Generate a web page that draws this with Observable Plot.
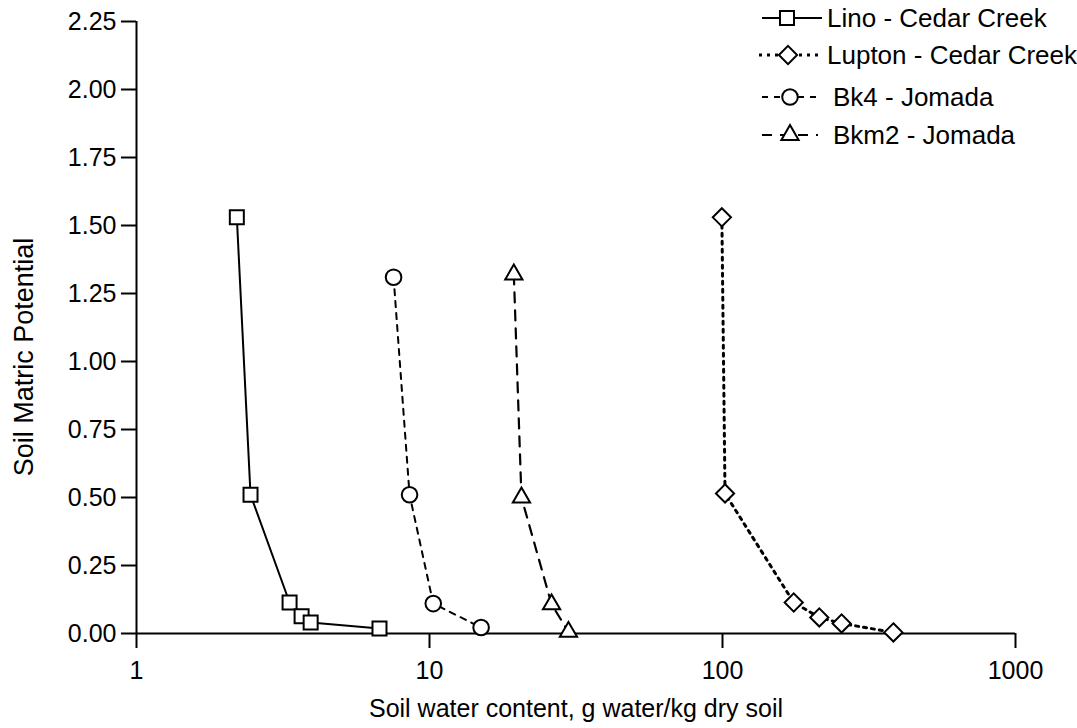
<!DOCTYPE html>
<html><head><meta charset="utf-8">
<script src="https://cdn.jsdelivr.net/npm/d3@7"></script>
<script src="https://cdn.jsdelivr.net/npm/@observablehq/plot@0.6"></script>
<style>
body{margin:0;background:#fff;}
#wrap{position:relative;width:1077px;height:728px;font-family:"Liberation Sans",Arial,Helvetica,sans-serif;}
#legend{position:absolute;left:0;top:0;pointer-events:none;}
</style></head><body><div id="wrap"></div>
<script>
// ---- data ----
const seriesNames = ["Lino - Cedar Creek", "Lupton - Cedar Creek", "Bk4 - Jomada", "Bkm2 - Jomada"];
const linoX = [2.2, 2.45, 3.33, 3.66, 3.93, 6.75];
const linoY = [1.53, 0.51, 0.114, 0.063, 0.04, 0.018];
const luptonX = [99.5, 102, 175, 214, 255, 383];
const luptonY = [1.53, 0.515, 0.114, 0.059, 0.037, 0.004];
const bk4X = [7.54, 8.55, 10.3, 15.0];
const bk4Y = [1.31, 0.51, 0.11, 0.022];
const bkm2X = [19.4, 20.6, 26.1, 29.8];
const bkm2Y = [1.32, 0.50, 0.107, 0.006];
const xTicks = [1, 10, 100, 1000];
const yTicks = [0, 0.25, 0.5, 0.75, 1, 1.25, 1.5, 1.75, 2, 2.25];
const xLabel = "Soil water content, g water/kg dry soil";
const yLabel = "Soil Matric Potential";

// ---- build tables ----
const seriesX = [linoX, luptonX, bk4X, bkm2X];
const seriesY = [linoY, luptonY, bk4Y, bkm2Y];
const tables = seriesNames.map((name, i) => seriesX[i].map((x, j) => ({series: name, x, y: seriesY[i][j]})));

const styles = [
  {dash: null, symbol: "square", r: 7.9, width: 2},
  {dash: "3,5", symbol: "diamond2", r: 8.2, width: 3},
  {dash: "6,6", symbol: "circle", r: 7.8, width: 2},
  {dash: "10,8", symbol: "triangle", r: 6.4, width: 2.2}
];

const font = '"Liberation Sans", Arial, Helvetica, sans-serif';

const marks = [
  Plot.ruleY([0], {stroke: "#000", strokeWidth: 2}),
  Plot.ruleX([1], {stroke: "#000", strokeWidth: 2}),
  Plot.axisX({ticks: xTicks, tickFormat: d => String(d), tickSize: 15, tickPadding: 13, strokeWidth: 2, fontSize: 25, label: null}),
  Plot.axisY({ticks: yTicks, tickFormat: d3.format(".2f"), tickSize: 15, tickPadding: 5, strokeWidth: 2, fontSize: 25, label: null})
];
tables.forEach((t, i) => {
  marks.push(Plot.line(t, {x: "x", y: "y", stroke: "#000", strokeWidth: styles[i].width, strokeDasharray: styles[i].dash || undefined}));
});
tables.forEach((t, i) => {
  marks.push(Plot.dot(t, {x: "x", y: "y", symbol: styles[i].symbol, r: styles[i].r, fill: "#fff", stroke: "#000", strokeWidth: 2}));
});
marks.push(Plot.text([xLabel], {text: d => d, frameAnchor: "bottom", dy: 83, fontSize: 25, fill: "#000"}));

const chart = Plot.plot({
  width: 1077, height: 728,
  marginLeft: 136, marginRight: 62, marginTop: 21, marginBottom: 95,
  style: {fontFamily: font, fontSize: "25px", color: "#000", background: "#fff", overflow: "visible"},
  x: {type: "log", domain: [1, 1000]},
  y: {domain: [0, 2.25]},
  marks
});
const wrap = document.getElementById("wrap");
wrap.appendChild(chart);

// y-axis title (real text)
d3.select(chart).append("text")
  .attr("transform", "translate(24,357) rotate(-90)")
  .attr("text-anchor", "middle").attr("dy", "0.35em")
  .attr("font-size", 27).attr("font-family", font).attr("fill", "#000")
  .text(yLabel);

// ---- legend ----
const legendRows = [18, 55, 97, 135];
const legendLine = [[762, 822, 787], [759, 822, 788], [762, 818, 790], [762, 818, 790]];
const legendTextX = [827, 827, 833, 833];
const leg = d3.select(wrap).append("svg").attr("id", "legend").attr("width", 1077).attr("height", 180)
  .style("font-family", font);
const symMap = {square: d3.symbolSquare, diamond2: d3.symbolDiamond2, circle: d3.symbolCircle, triangle: d3.symbolTriangle};
seriesNames.forEach((name, i) => {
  const y = legendRows[i], [x0, x1, xs] = legendLine[i], s = styles[i];
  const ln = leg.append("line").attr("x1", x0).attr("x2", x1).attr("y1", y).attr("y2", y)
    .attr("stroke", "#000").attr("stroke-width", s.width);
  if (s.dash) ln.attr("stroke-dasharray", s.dash);
  leg.append("path").attr("transform", `translate(${xs},${y})`)
    .attr("d", d3.symbol(symMap[s.symbol], s.r * s.r * Math.PI)())
    .attr("fill", "#fff").attr("stroke", "#000").attr("stroke-width", 2);
  leg.append("text").attr("x", legendTextX[i]).attr("y", y).attr("dy", "0.35em")
    .attr("font-size", 26).attr("fill", "#000").text(name);
});
</script></body></html>
